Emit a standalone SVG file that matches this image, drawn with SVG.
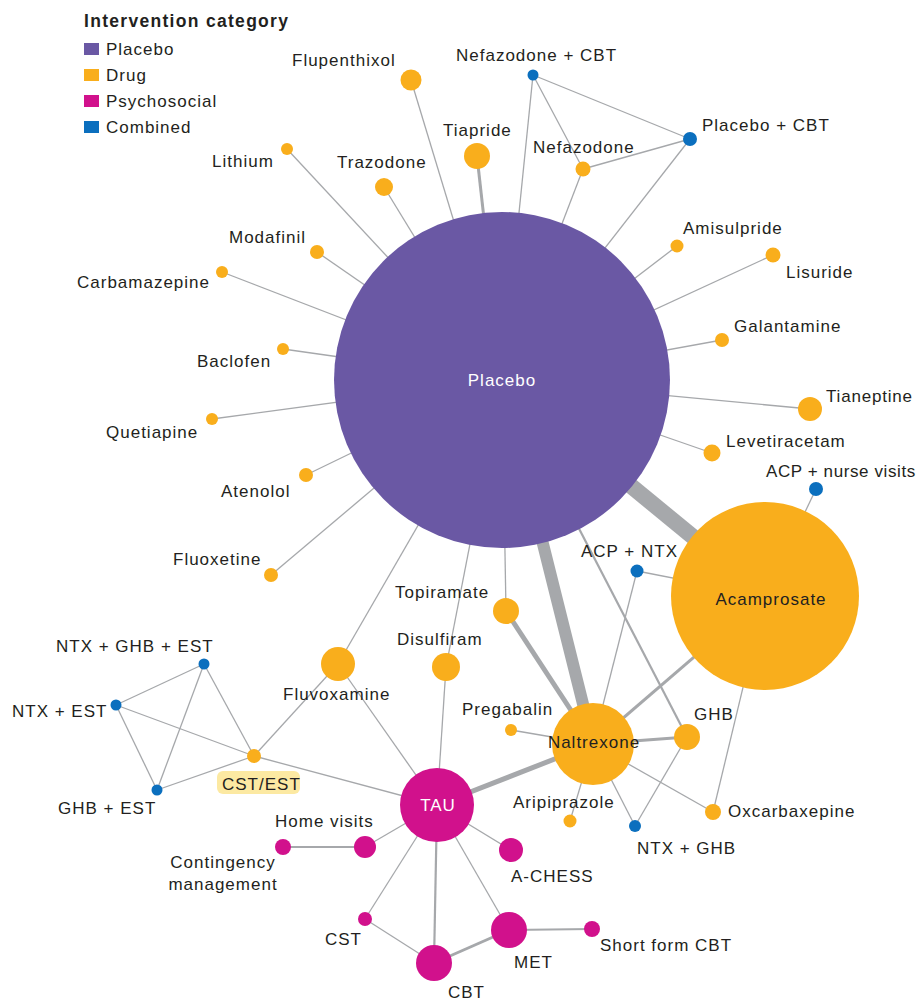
<svg xmlns="http://www.w3.org/2000/svg" width="920" height="1001" viewBox="0 0 920 1001">
<style>
.e{stroke:#a6a8ab;stroke-width:1.3;fill:none;stroke-linecap:butt}
.w2{stroke-width:2.2}
.w3{stroke-width:3}
.w5{stroke-width:5}
.w12{stroke-width:12}
.w16{stroke-width:16}
.pl{fill:#6a58a4}
.dr{fill:#f9ae1c}
.ps{fill:#d1118c}
.co{fill:#0b6fbe}
text{font-family:"Liberation Sans",Arial,sans-serif;font-size:17px;fill:#231f20;letter-spacing:1px}
.wt{fill:#ffffff}
.mid{text-anchor:middle}
.ttl{font-weight:bold;font-size:17.5px;letter-spacing:1.3px}
</style>
<rect width="920" height="1001" fill="#ffffff"/>
<g id="legend">
<text class="ttl" x="84" y="27">Intervention category</text>
<rect class="pl" x="84" y="43" width="15" height="12"/><text x="106" y="55">Placebo</text>
<rect class="dr" x="84" y="69" width="15" height="12"/><text x="106" y="81">Drug</text>
<rect class="ps" x="84" y="95" width="15" height="12"/><text x="106" y="107">Psychosocial</text>
<rect class="co" x="84" y="121" width="15" height="12"/><text x="106" y="133">Combined</text>
</g>
<g id="connectors">
<line class="e" x1="502" y1="380" x2="411" y2="80"/>
<line class="e w3" x1="502" y1="380" x2="477" y2="156"/>
<line class="e" x1="502" y1="380" x2="533" y2="75"/>
<line class="e" x1="502" y1="380" x2="583" y2="169"/>
<line class="e" x1="502" y1="380" x2="690" y2="139"/>
<line class="e" x1="502" y1="380" x2="287" y2="149"/>
<line class="e" x1="502" y1="380" x2="384" y2="187"/>
<line class="e" x1="502" y1="380" x2="317" y2="252"/>
<line class="e" x1="502" y1="380" x2="222" y2="272"/>
<line class="e" x1="502" y1="380" x2="283" y2="349"/>
<line class="e" x1="502" y1="380" x2="212" y2="419"/>
<line class="e" x1="502" y1="380" x2="306" y2="475"/>
<line class="e" x1="502" y1="380" x2="271" y2="575"/>
<line class="e" x1="502" y1="380" x2="677" y2="246"/>
<line class="e" x1="502" y1="380" x2="773" y2="255"/>
<line class="e" x1="502" y1="380" x2="722" y2="340"/>
<line class="e" x1="502" y1="380" x2="810" y2="409"/>
<line class="e" x1="502" y1="380" x2="712" y2="453"/>
<line class="e w16" x1="502" y1="380" x2="765" y2="596"/>
<line class="e w12" x1="502" y1="380" x2="593" y2="744"/>
<line class="e w2" x1="502" y1="380" x2="687" y2="737"/>
<line class="e" x1="502" y1="380" x2="506" y2="611"/>
<line class="e" x1="502" y1="380" x2="446" y2="667"/>
<line class="e" x1="502" y1="380" x2="338" y2="664"/>
<line class="e" x1="533" y1="75" x2="583" y2="169"/>
<line class="e" x1="533" y1="75" x2="690" y2="139"/>
<line class="e" x1="583" y1="169" x2="690" y2="139"/>
<line class="e" x1="765" y1="596" x2="816" y2="489"/>
<line class="e" x1="765" y1="596" x2="637" y2="571"/>
<line class="e w3" x1="765" y1="596" x2="593" y2="744"/>
<line class="e" x1="765" y1="596" x2="713" y2="812"/>
<line class="e" x1="637" y1="571" x2="593" y2="744"/>
<line class="e w5" x1="506" y1="611" x2="593" y2="744"/>
<line class="e" x1="593" y1="744" x2="511" y2="730"/>
<line class="e w3" x1="593" y1="744" x2="687" y2="737"/>
<line class="e" x1="593" y1="744" x2="570" y2="821"/>
<line class="e" x1="593" y1="744" x2="713" y2="812"/>
<line class="e" x1="593" y1="744" x2="635" y2="826"/>
<line class="e w5" x1="593" y1="744" x2="437" y2="805"/>
<line class="e" x1="687" y1="737" x2="635" y2="826"/>
<line class="e" x1="437" y1="805" x2="338" y2="664"/>
<line class="e" x1="437" y1="805" x2="446" y2="667"/>
<line class="e" x1="437" y1="805" x2="254" y2="756"/>
<line class="e" x1="437" y1="805" x2="365" y2="847"/>
<line class="e" x1="437" y1="805" x2="511" y2="850"/>
<line class="e" x1="437" y1="805" x2="365" y2="919"/>
<line class="e w2" x1="437" y1="805" x2="434" y2="963"/>
<line class="e" x1="437" y1="805" x2="509" y2="930"/>
<line class="e w2" x1="365" y1="847" x2="283" y2="847"/>
<line class="e" x1="365" y1="919" x2="434" y2="963"/>
<line class="e w3" x1="434" y1="963" x2="509" y2="930"/>
<line class="e w2" x1="509" y1="930" x2="592" y2="929"/>
<line class="e" x1="254" y1="756" x2="338" y2="664"/>
<line class="e" x1="254" y1="756" x2="204" y2="664"/>
<line class="e" x1="254" y1="756" x2="116" y2="705"/>
<line class="e" x1="254" y1="756" x2="157" y2="790"/>
<line class="e" x1="204" y1="664" x2="116" y2="705"/>
<line class="e" x1="204" y1="664" x2="157" y2="790"/>
<line class="e" x1="116" y1="705" x2="157" y2="790"/>
</g>
<g id="node-placebo"><circle class="pl" cx="502" cy="380" r="168"/><text class="wt mid" x="502" y="386">Placebo</text></g>
<g id="node-acamprosate"><circle class="dr" cx="765" cy="596" r="94"/><text class="mid" x="771" y="605">Acamprosate</text></g>
<g id="node-naltrexone"><circle class="dr" cx="593" cy="744" r="41"/><text class="mid" x="594" y="748">Naltrexone</text></g>
<g id="node-tau"><circle class="ps" cx="437" cy="805" r="37"/><text class="wt mid" x="438" y="811">TAU</text></g>
<g id="node-flupenthixol"><circle class="dr" cx="411" cy="80" r="10.5"/><text x="292" y="66">Flupenthixol</text></g>
<g id="node-tiapride"><circle class="dr" cx="477" cy="156" r="13"/><text x="443" y="136">Tiapride</text></g>
<g id="node-nefazodone-cbt"><circle class="co" cx="533" cy="75" r="5.5"/><text x="456" y="61">Nefazodone + CBT</text></g>
<g id="node-nefazodone"><circle class="dr" cx="583" cy="169" r="7.5"/><text x="533" y="153">Nefazodone</text></g>
<g id="node-placebo-cbt"><circle class="co" cx="690" cy="139" r="7"/><text x="702" y="131">Placebo + CBT</text></g>
<g id="node-lithium"><circle class="dr" cx="287" cy="149" r="6"/><text x="212" y="167">Lithium</text></g>
<g id="node-trazodone"><circle class="dr" cx="384" cy="187" r="9"/><text x="337" y="168">Trazodone</text></g>
<g id="node-modafinil"><circle class="dr" cx="317" cy="252" r="7"/><text x="229" y="243">Modafinil</text></g>
<g id="node-carbamazepine"><circle class="dr" cx="222" cy="272" r="6"/><text x="77" y="288">Carbamazepine</text></g>
<g id="node-baclofen"><circle class="dr" cx="283" cy="349" r="6"/><text x="197" y="367">Baclofen</text></g>
<g id="node-quetiapine"><circle class="dr" cx="212" cy="419" r="6"/><text x="106" y="438">Quetiapine</text></g>
<g id="node-atenolol"><circle class="dr" cx="306" cy="475" r="7"/><text x="221" y="497">Atenolol</text></g>
<g id="node-fluoxetine"><circle class="dr" cx="271" cy="575" r="7"/><text x="173" y="565">Fluoxetine</text></g>
<g id="node-amisulpride"><circle class="dr" cx="677" cy="246" r="6.5"/><text x="683" y="234">Amisulpride</text></g>
<g id="node-lisuride"><circle class="dr" cx="773" cy="255" r="7.5"/><text x="786" y="278">Lisuride</text></g>
<g id="node-galantamine"><circle class="dr" cx="722" cy="340" r="7"/><text x="734" y="332">Galantamine</text></g>
<g id="node-tianeptine"><circle class="dr" cx="810" cy="409" r="12"/><text x="826" y="402" style="letter-spacing:0.8px">Tianeptine</text></g>
<g id="node-levetiracetam"><circle class="dr" cx="712" cy="453" r="8.5"/><text x="726" y="447">Levetiracetam</text></g>
<g id="node-acp-nurse"><circle class="co" cx="816" cy="489" r="7"/><text x="766" y="477" style="letter-spacing:0.6px">ACP + nurse visits</text></g>
<g id="node-acp-ntx"><circle class="co" cx="637" cy="571" r="6.5"/><text x="581" y="557">ACP + NTX</text></g>
<g id="node-topiramate"><circle class="dr" cx="506" cy="611" r="13"/><text x="395" y="598">Topiramate</text></g>
<g id="node-disulfiram"><circle class="dr" cx="446" cy="667" r="14"/><text x="397" y="645">Disulfiram</text></g>
<g id="node-fluvoxamine"><circle class="dr" cx="338" cy="664" r="17"/><text x="283" y="700">Fluvoxamine</text></g>
<g id="node-pregabalin"><circle class="dr" cx="511" cy="730" r="6"/><text x="462" y="715">Pregabalin</text></g>
<g id="node-ghb"><circle class="dr" cx="687" cy="737" r="13"/><text x="694" y="720">GHB</text></g>
<g id="node-aripiprazole"><circle class="dr" cx="570" cy="821" r="6.5"/><text x="513" y="808">Aripiprazole</text></g>
<g id="node-oxcarbaxepine"><circle class="dr" cx="713" cy="812" r="8"/><text x="728" y="817">Oxcarbaxepine</text></g>
<g id="node-ntx-ghb"><circle class="co" cx="635" cy="826" r="6"/><text x="637" y="854">NTX + GHB</text></g>
<g id="node-ntx-ghb-est"><circle class="co" cx="204" cy="664" r="5.5"/><text x="56" y="652">NTX + GHB + EST</text></g>
<g id="node-ntx-est"><circle class="co" cx="116" cy="705" r="5.5"/><text x="12" y="717">NTX + EST</text></g>
<g id="node-ghb-est"><circle class="co" cx="157" cy="790" r="5.5"/><text x="58" y="814">GHB + EST</text></g>
<g id="node-cst-est"><circle class="dr" cx="254" cy="756" r="7"/><rect x="217" y="771" width="83" height="23" rx="6" fill="#fce9a2"/><text x="222" y="790">CST/EST</text></g>
<g id="node-home-visits"><circle class="ps" cx="365" cy="847" r="11"/><text x="275" y="827">Home visits</text></g>
<g id="node-contingency"><circle class="ps" cx="283" cy="847" r="8"/><text class="mid" x="223" y="868">Contingency</text><text class="mid" x="223" y="890">management</text></g>
<g id="node-achess"><circle class="ps" cx="511" cy="850" r="12"/><text x="511" y="882">A-CHESS</text></g>
<g id="node-cst"><circle class="ps" cx="365" cy="919" r="7"/><text x="325" y="945">CST</text></g>
<g id="node-cbt"><circle class="ps" cx="434" cy="963" r="18"/><text x="448" y="998">CBT</text></g>
<g id="node-met"><circle class="ps" cx="509" cy="930" r="18"/><text x="514" y="968">MET</text></g>
<g id="node-short-cbt"><circle class="ps" cx="592" cy="929" r="8"/><text x="600" y="951">Short form CBT</text></g>
</svg>
